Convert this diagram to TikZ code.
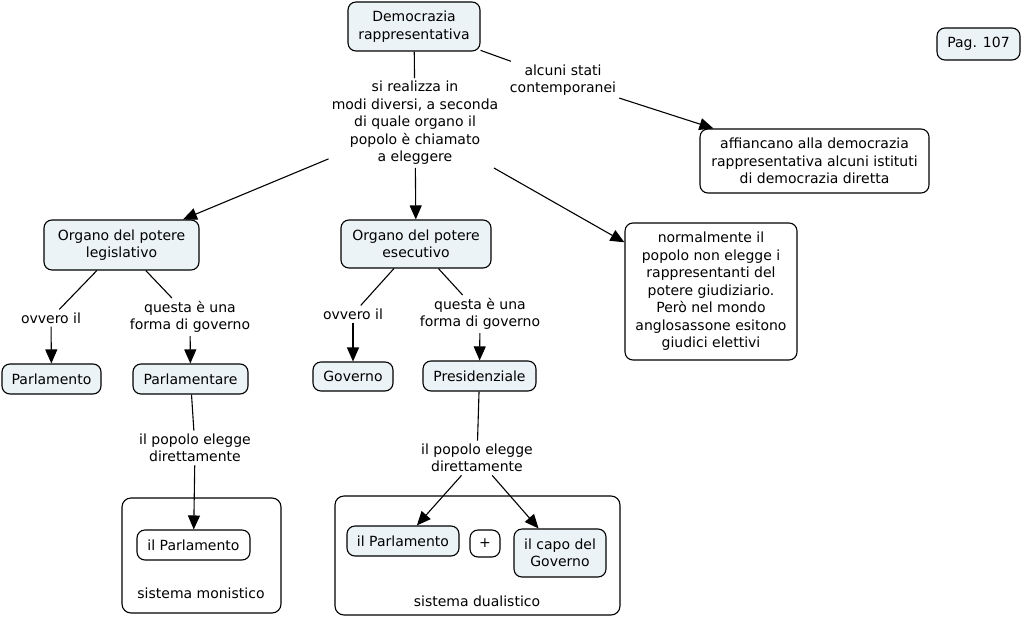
\documentclass[tikz,border=0pt]{standalone}
\usepackage{fontspec}
\setmainfont{DejaVu Sans}
\usetikzlibrary{arrows.meta}
\definecolor{boxfill}{RGB}{236,243,246}
\tikzset{
  base/.style={font=\fontsize{14}{17.5}\selectfont, align=center},
  concept/.style={base, draw, rounded corners=8pt, line width=1.1pt, fill=boxfill, inner sep=2pt},
  wconcept/.style={concept, fill=white},
  container/.style={draw, rounded corners=9pt, line width=1.1pt, fill=white},
  lab/.style={base, inner sep=3pt},
  link/.style={line width=1.1pt},
  arr/.style={line width=1.1pt, -{Triangle[length=14pt,width=12pt]}}
}
\begin{document}
\begin{tikzpicture}[x=1pt,y=-1pt]
\useasboundingbox[fill=white] (0,0) rectangle (1024,618);
% containers
\node[container, minimum width=159pt, minimum height=115pt] (mono) at (201.5,555.5) {};
\node[container, minimum width=285pt, minimum height=119pt] (dual) at (477.5,555.5) {};
% concepts
\node[concept, minimum width=132pt, minimum height=49pt] (dem) at (414,26.5) {Democrazia\\rappresentativa};
\node[concept, minimum width=83pt, minimum height=32pt] (pag) at (978.5,44) {Pag. 107};
\node[wconcept, minimum width=229pt, minimum height=64pt] (aff) at (814.5,161) {affiancano alla democrazia\\rappresentativa alcuni istituti\\di democrazia diretta};
\node[wconcept, minimum width=172pt, minimum height=137pt] (norm) at (711,291.5) {normalmente il\\popolo non elegge i\\rappresentanti del\\potere giudiziario.\\Però nel mondo\\anglosassone esitono\\giudici elettivi};
\node[concept, minimum width=155pt, minimum height=50pt] (leg) at (121.5,245) {Organo del potere\\legislativo};
\node[concept, minimum width=150pt, minimum height=48pt] (ese) at (416,244) {Organo del potere\\esecutivo};
\node[concept, minimum width=99pt, minimum height=30pt] (parl) at (51.5,379) {Parlamento};
\node[concept, minimum width=115pt, minimum height=30pt] (parlm) at (190.5,379) {Parlamentare};
\node[concept, minimum width=80pt, minimum height=29pt] (gov) at (353,376.5) {Governo};
\node[concept, minimum width=113pt, minimum height=30pt] (pres) at (479.5,376) {Presidenziale};
\node[wconcept, minimum width=113pt, minimum height=30pt] (ipm) at (193.5,545) {il Parlamento};
\node[concept, minimum width=112pt, minimum height=30pt] (ipd) at (403,541) {il Parlamento};
\node[wconcept, minimum width=30pt, minimum height=27pt] (plus) at (485,543.5) {+};
\node[concept, minimum width=92pt, minimum height=48pt] (capo) at (560,553) {il capo del\\Governo};
% labels
\node[lab] (l1) at (415,123) {si realizza in\\modi diversi, a seconda\\di quale organo il\\popolo è chiamato\\a eleggere};
\node[lab] (alc) at (563,80) {alcuni stati\\contemporanei};
\node[lab] (ov1) at (51,318) {ovvero il};
\node[lab] (q1) at (190,317) {questa è una\\forma di governo};
\node[lab] (ov2) at (353,314) {ovvero il};
\node[lab] (q2) at (480,314) {questa è una\\forma di governo};
\node[lab] (pop1) at (195,448) {il popolo elegge\\direttamente};
\node[lab] (pop2) at (477,458) {il popolo elegge\\direttamente};
\node[lab] (smono) at (201,593) {sistema monistico};
\node[lab] (sdual) at (477,601) {sistema dualistico};
% connectors
\draw[link] (dem) -- (l1);
\draw[arr] (l1) -- (leg);
\draw[arr] (l1) -- (ese);
\draw[arr] (l1) -- (norm);
\draw[link] (dem) -- (alc);
\draw[arr] (alc) -- (aff);
\draw[link] (leg) -- (ov1);
\draw[arr] (ov1) -- (parl);
\draw[link] (leg) -- (q1);
\draw[arr] (q1) -- (parlm);
\draw[link] (ese) -- (ov2);
\draw[arr] (ov2) -- (gov);
\draw[link] (ese) -- (q2);
\draw[arr] (q2) -- (pres);
\draw[link] (parlm) -- (pop1);
\draw[arr] (pop1) -- (ipm);
\draw[link] (pres) -- (pop2);
\draw[arr] (pop2) -- (ipd);
\draw[arr] (pop2) -- (capo);
\end{tikzpicture}
\end{document}
